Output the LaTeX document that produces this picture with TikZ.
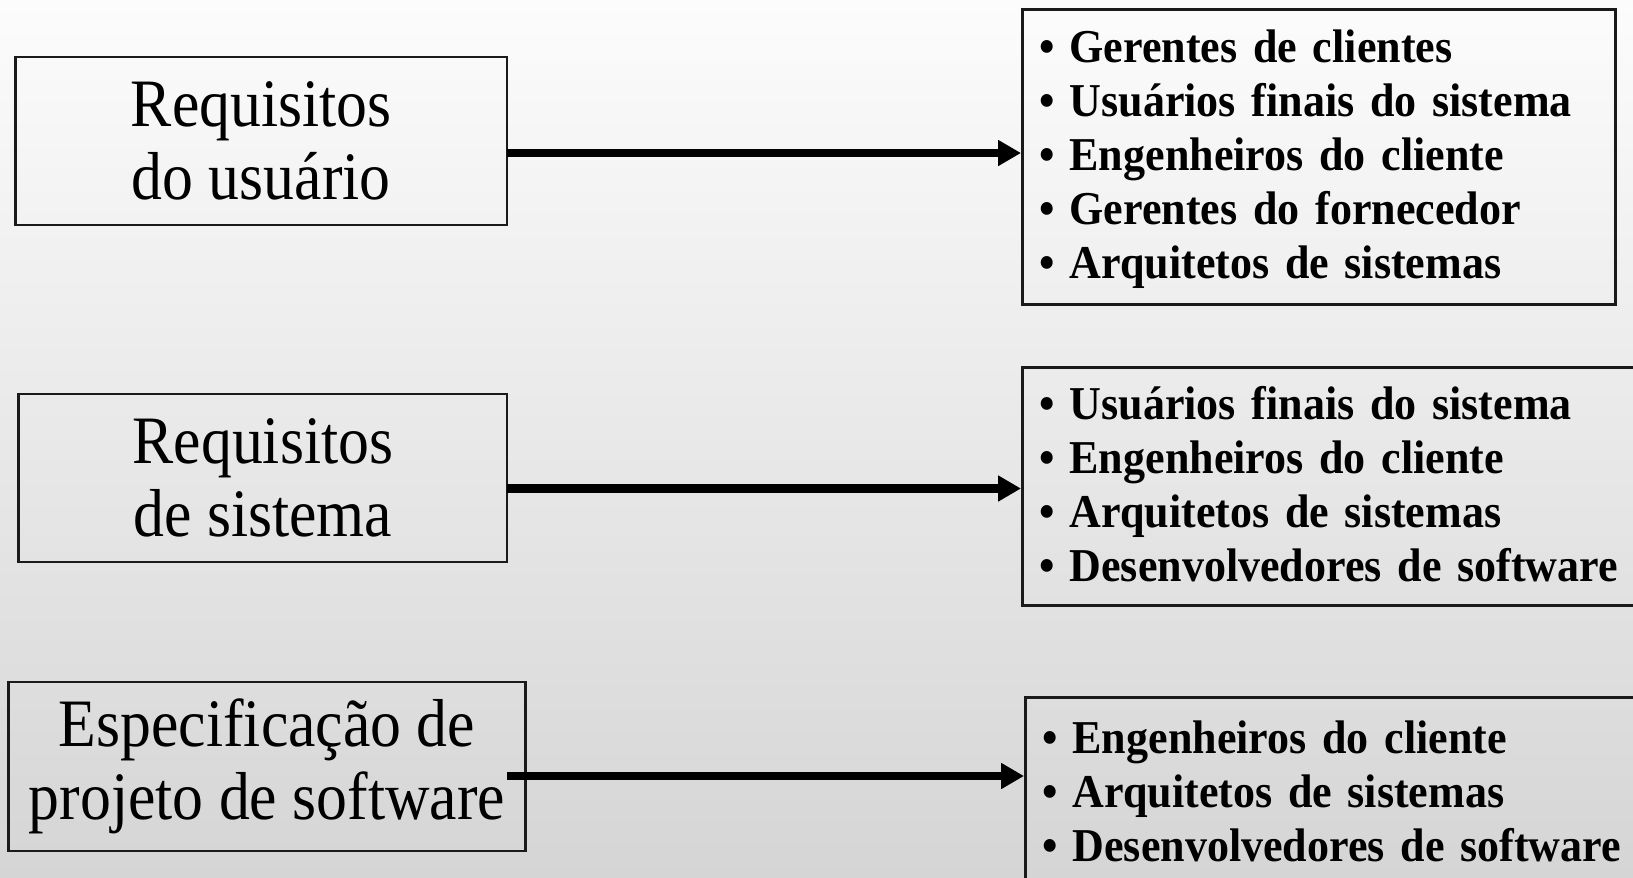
\documentclass[tikz,border=0pt]{standalone}
\usepackage{fontspec}
\setmainfont{Liberation Serif}[FakeStretch=0.91, BoldFeatures={FakeStretch=0.935}]
\usepackage{xcolor}
\usetikzlibrary{arrows.meta,positioning}

\definecolor{fundotopo}{HTML}{FCFCFC}
\definecolor{fundomeio}{HTML}{EFEFEF}
\definecolor{fundobase}{HTML}{D5D5D5}
\definecolor{borda}{HTML}{1A1A1A}

\newcommand{\sobe}{\rule{0pt}{0.8em}}
\newcommand{\desce}{\rule[-0.2em]{0pt}{0.2em}}
\newcommand{\marca}{\hspace{-0.08em}•\hspace{0.32em}}

\tikzset{
  reqbox/.style={draw=borda, line width=0.8pt, minimum height=1.68cm, inner sep=0pt,
    align=center, font=\fontsize{19.3}{20.8}\selectfont},
  listbox/.style={draw=borda, line width=0.8pt, anchor=north west, align=left,
    inner xsep=0.205cm, inner ysep=0pt, font=\bfseries\fontsize{13.4}{15.36}\selectfont},
  seta/.style={line width=2.5pt, -{Triangle[length=6.5pt,width=7pt]}}
}

\begin{document}
\begin{tikzpicture}
	\useasboundingbox (0,0) rectangle (16.33,-8.77);
	\clip (0,0) rectangle (16.33,-8.77);
	\shade[top color=fundotopo, middle color=fundomeio, bottom color=fundobase] (0,0) rectangle (16.33,-8.77);
	
	% documentos
	\node[reqbox, minimum width=4.914cm] (req1) at (2.613,-1.41) {\raisebox{-0.2em}{Requisitos}\\\raisebox{-0.2em}{do usuário}};
	\node[reqbox, minimum width=4.883cm] (req2) at (2.629,-4.78) {\raisebox{-0.2em}{Requisitos}\\\raisebox{-0.2em}{de sistema}};
	\node[reqbox, minimum width=5.177cm, minimum height=1.69cm] (spec) at (2.67,-7.665) {Especificação de\\projeto de software};
	
	% leitores
	\node[listbox, minimum width=5.93cm, minimum height=2.947cm, text width=5.52cm] (lst1) at (10.21,-0.083)
		{\sobe\marca Gerentes de clientes\\\marca Usuários finais do sistema\\\marca Engenheiros do cliente\\\marca Gerentes do fornecedor\\\marca Arquitetos de sistemas\desce};
	\node[listbox, minimum width=6.6cm, minimum height=2.38cm, text width=6.19cm] (lst2) at (10.21,-3.66)
		{\sobe\marca Usuários finais do sistema\\\marca Engenheiros do cliente\\\marca Arquitetos de sistemas\\\marca Desenvolvedores de software\desce};
	\node[listbox, minimum width=6.6cm, minimum height=1.92cm, text width=6.19cm] (lst3) at (10.24,-6.96)
		{\sobe\marca Engenheiros do cliente\\\marca Arquitetos de sistemas\\\marca Desenvolvedores de software\desce};
	
	\coordinate (s1) at (5.07,-1.53);
	\coordinate (s2) at (5.07,-4.885);
	\coordinate (s3) at (5.07,-7.76);
	\draw[seta] (s1) -- (s1 -| lst1.west);
	\draw[seta] (s2) -- (s2 -| lst2.west);
	\draw[seta] (s3) -- (s3 -| lst3.west);
\end{tikzpicture}
\end{document}
